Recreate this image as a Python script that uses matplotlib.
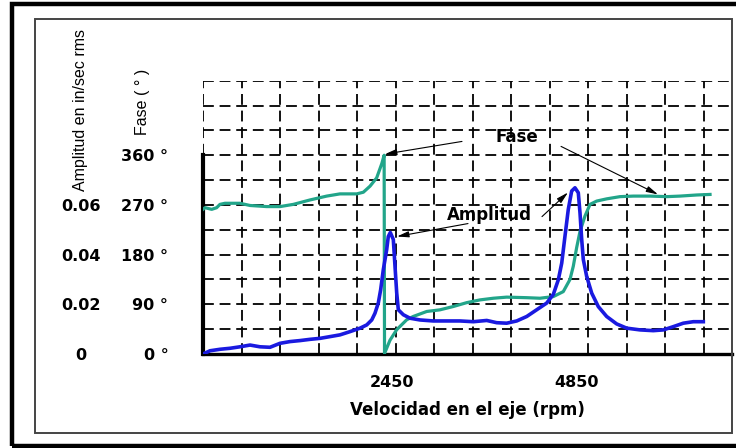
import matplotlib
matplotlib.use("Agg")
import matplotlib.pyplot as plt
from matplotlib.patches import Rectangle
import numpy as np

# Phase (deg) and amplitude (in/sec rms) against shaft speed (rpm)
phase_rpm = [0, 26, 113, 177, 220, 285, 480, 610, 826, 999, 1172, 1388, 1605, 1777, 1994, 2080,
             2167, 2253, 2320, 2350, 2355, 2426, 2513, 2556, 2643, 2728, 2902, 3074, 3247, 3421,
             3594, 3766, 3940, 4200, 4372, 4545, 4674, 4761, 4804, 4848, 4891, 4956, 5021, 5108,
             5237, 5410, 5583, 5799, 6016, 6188, 6405, 6578]
phase_deg = [262, 265, 262, 265, 271, 273, 273, 269, 267, 267, 271, 279, 286, 290, 290, 293,
             304, 319, 345, 360, 1, 25, 44, 50, 62, 68, 77, 80, 86, 93,
             98, 101, 103, 102, 101, 104, 113, 135, 159, 193, 222, 250, 271, 277,
             281, 285, 286, 286, 285, 286, 288, 289]

amp_rpm = [0, 91, 221, 350, 480, 610, 739, 869, 999, 1129, 1258, 1388, 1518, 1648, 1777, 1907,
           2037, 2124, 2189, 2231, 2274, 2305, 2339, 2383, 2404, 2430, 2469, 2491, 2513, 2534,
           2599, 2686, 2815, 2988, 3162, 3334, 3507, 3681, 3810, 3940, 4070, 4200, 4329, 4459,
           4545, 4610, 4654, 4696, 4739, 4783, 4826, 4869, 4891, 4913, 4934, 4978, 5043, 5128,
           5237, 5367, 5497, 5670, 5842, 5972, 6101, 6231, 6361, 6491]
amp = [0, 0.0013, 0.0019, 0.0023, 0.0029, 0.0036, 0.0029, 0.0027, 0.0043, 0.0050, 0.0054,
       0.0059, 0.0063, 0.0070, 0.0077, 0.0090, 0.0104, 0.0117, 0.0137, 0.0164, 0.0205, 0.0259,
       0.0339, 0.0420, 0.0473, 0.0489, 0.0461, 0.0353, 0.0246, 0.0178, 0.0158, 0.0144, 0.0137,
       0.0133, 0.0133, 0.0133, 0.0130, 0.0135, 0.0126, 0.0124, 0.0133, 0.0151, 0.0178, 0.0205,
       0.0240, 0.0299, 0.0366, 0.0474, 0.0582, 0.0656, 0.0669, 0.0649, 0.0568, 0.0461, 0.0380,
       0.0312, 0.0245, 0.0191, 0.0151, 0.0121, 0.0104, 0.0097, 0.0094, 0.0097, 0.0110, 0.0124,
       0.0130, 0.0130]

speed_ticks = [2450, 4850]
phase_ticks = [0, 90, 180, 270, 360]
phase_labels = ["0 °", "90 °", "180 °", "270 °", "360 °"]
amp_ticks = [0, 0.02, 0.04, 0.06]
amp_labels = ["0", "0.02", "0.04", "0.06"]

teal = "#22a58a"
blue = "#1a1ae0"
W, H = 736, 448

fig = plt.figure(figsize=(W / 100, H / 100), dpi=100)
fig.patch.set_facecolor("white")

# outer black border (runs off the right edge) and inner grey frame, pixel coords
fig.patches.append(Rectangle((12 / W, 2.5 / H), 760 / W, (443.5 - 2.5) / H,
                             transform=fig.transFigure, fill=False, ec="black", lw=3.2))
fig.patches.append(Rectangle((35 / W, (H - 433) / H), (732 - 35) / W, (433 - 19) / H,
                             transform=fig.transFigure, fill=False, ec="#444444", lw=1.4))

ax = fig.add_axes([203 / W, (H - 354) / H, (732 - 203) / W, (354 - 80.7) / H])
ax.set_xlim(0, 6863)
ax.set_ylim(0, 495)
ax.patch.set_alpha(0)

# dashed grid every 500 rpm / 45 deg
ax.set_xticks(np.arange(0, 6600, 500), minor=True)
ax.set_yticks(np.arange(0, 500, 45), minor=True)
ax.set_xticks(speed_ticks)
ax.set_xticklabels([str(v) for v in speed_ticks])
ax.set_yticks(phase_ticks)
ax.set_yticklabels(phase_labels)
dash = dict(color="black", lw=1.3, linestyle=(0, (6, 3.2)))
ax.grid(which="minor", axis="x", **dash)
ax.grid(which="both", axis="y", **dash)
ax.set_axisbelow(True)

for s in ["top", "right"]:
    ax.spines[s].set_visible(False)
ax.spines["left"].set_bounds(0, 360)
ax.spines["left"].set_linewidth(3.0)
ax.spines["bottom"].set_linewidth(2.4)
ax.tick_params(which="both", length=0)
ax.tick_params(axis="x", pad=15, labelsize=11.5)
ax.tick_params(axis="y", pad=25, labelsize=11.5)
for lab in ax.get_xticklabels() + ax.get_yticklabels():
    lab.set_fontweight("bold")

ax.plot(phase_rpm, phase_deg, color=teal, lw=2.3, solid_joinstyle="round", zorder=3)

# amplitude on a twin scale: 0.06 in/sec lines up with 270 deg
ax2 = ax.twinx()
ax2.set_ylim(0, 495 / 4500)
ax2.plot(amp_rpm, amp, color=blue, lw=2.6, solid_joinstyle="round", zorder=4)
ax2.yaxis.set_ticks_position("left")
ax2.set_yticks(amp_ticks)
ax2.set_yticklabels(amp_labels)
ax2.tick_params(length=0, pad=88, labelsize=11.5)
for lab in ax2.get_yticklabels():
    lab.set_fontweight("bold")
    lab.set_horizontalalignment("center")
for s in ax2.spines.values():
    s.set_visible(False)

ax.set_xlabel("Velocidad en el eje (rpm)", fontsize=12, fontweight="bold", labelpad=8)

narrow = ["Liberation Sans Narrow", "Liberation Sans", "DejaVu Sans"]
fig.text(80 / W, 1 - 110 / H, "Amplitud en in/sec rms", rotation=90, ha="center", va="center",
         fontsize=11.5, family=narrow)
fig.text(143 / W, 1 - 102 / H, "Fase ( ° )", rotation=90, ha="center", va="center",
         fontsize=11.5, family=narrow)

# callouts
arr = dict(arrowstyle="-|>,head_length=0.7,head_width=0.18", color="black", lw=0.8,
           shrinkA=0, shrinkB=0)
ax.text(4074, 393, "Fase", fontsize=12, fontweight="bold", ha="center", va="center")
ax.annotate("", xy=(2360, 362), xytext=(3360, 385), arrowprops=arr)
ax.annotate("", xy=(5903, 289), xytext=(4645, 376), arrowprops=arr)
ax2.text(3710, 0.0558, "Amplitud", fontsize=12, fontweight="bold", ha="center", va="center")
ax2.annotate("", xy=(2517, 0.0473), xytext=(3438, 0.0525), arrowprops=arr)
ax2.annotate("", xy=(4735, 0.065), xytext=(4398, 0.0553), arrowprops=arr)

fig.savefig("out.png", dpi=100, facecolor="white")
